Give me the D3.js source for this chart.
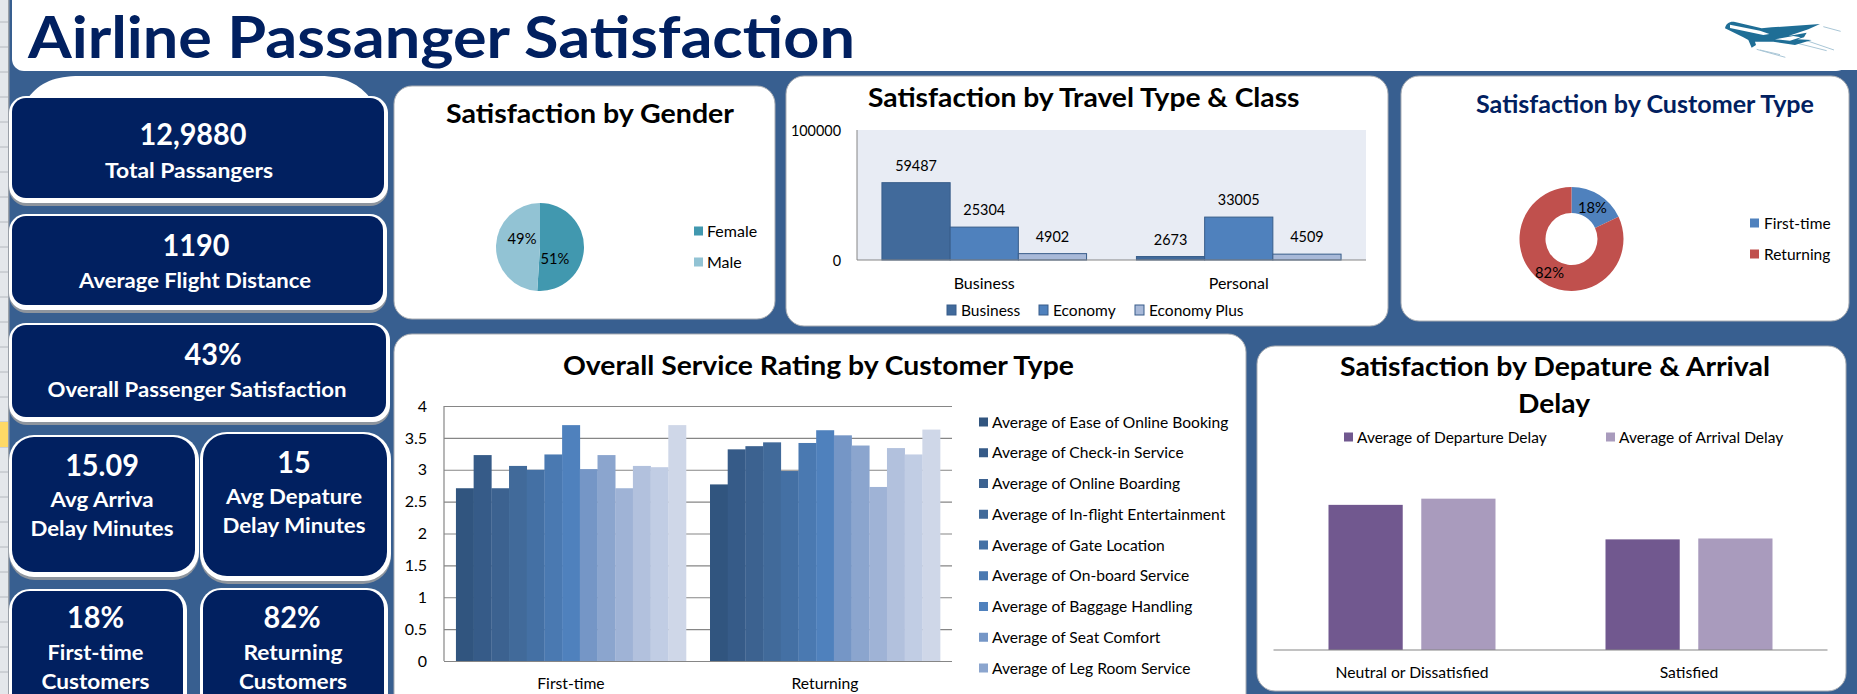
<!DOCTYPE html>
<html><head><meta charset="utf-8">
<script src="https://cdn.jsdelivr.net/npm/d3@7"></script>
<style>html,body{margin:0;padding:0;background:#385F90;overflow:hidden}svg{display:block}text{font-family:Lato,"Open Sans",sans-serif}</style>
</head><body><svg id="c" width="1857" height="694"></svg>
<script>
// ---------- data ----------
const chartTitle = "Airline Passanger Satisfaction";
const kpiValues = ["12,9880","1190","43%","15.09","15","18%","82%"];
const kpiLabels = [["Total Passangers"],["Average Flight Distance"],["Overall Passenger Satisfaction"],["Avg Arriva","Delay Minutes"],["Avg Depature","Delay Minutes"],["First-time","Customers"],["Returning","Customers"]];
const genderCats = ["Female","Male"];
const genderVals = [51,49];
const travelCats = ["Business","Personal"];
const classNames = ["Business","Economy","Economy Plus"];
const travelBusiness = [59487,25304,4902];
const travelPersonal = [2673,33005,4509];
const customerCats = ["First-time","Returning"];
const customerVals = [18,82];
const serviceCats = ["First-time","Returning"];
const serviceFirst = [2.71,3.23,2.71,3.06,3.00,3.24,3.70,3.01,3.23,2.71,3.06,3.04,3.70];
const serviceReturning = [2.77,3.32,3.37,3.43,2.98,3.42,3.62,3.54,3.38,2.73,3.34,3.24,3.63];
const serviceLegend = ["Average of Ease of Online Booking","Average of Check-in Service","Average of Online Boarding","Average of In-flight Entertainment","Average of Gate Location","Average of On-board Service","Average of Baggage Handling","Average of Seat Comfort","Average of Leg Room Service"];
const serviceTicks = [0,0.5,1,1.5,2,2.5,3,3.5,4];
const delayCats = ["Neutral or Dissatisfied","Satisfied"];
const delaySeries = ["Average of Departure Delay","Average of Arrival Delay"];
const delayDeparture = [16.4,12.5];
const delayArrival = [17.1,12.6];

// ---------- styles ----------
const NAVY="#012060", BLUE="#385F90", INK="#000", SMALL=16;
const serviceColors=["#31557F","#365B88","#3C6290","#416A9A","#4470A4","#4A79B1","#4F81BD","#7596C6","#8BA5CE","#9FB3D6","#B2C1DD","#C1CDE4","#CFD7E8"];
const svg=d3.select("#c");

function txt(g,x,y,s,o={}){
  const t=g.append("text").attr("x",x).attr("y",y).text(s)
    .attr("font-size",o.size||SMALL).attr("font-weight",o.weight||400)
    .attr("fill",o.fill||INK).attr("text-anchor",o.anchor||"start");
  const w=o.width||(o.sx?t.node().getComputedTextLength()*o.sx:0);
  if(w) t.attr("textLength",w).attr("lengthAdjust","spacingAndGlyphs");
  return t;
}
function card(x0,y0,x1,y1,r=18){
  svg.append("rect").attr("x",x0).attr("y",y0).attr("width",x1-x0).attr("height",y1-y0).attr("rx",r)
    .attr("fill","#fff").attr("stroke","#A9ADB3").attr("stroke-width",1);
  return svg.append("g");
}
function swatch(g,x,yc,c,w=9,h=10,stroke){
  g.append("rect").attr("x",x).attr("y",yc-h/2).attr("width",w).attr("height",h).attr("fill",c).attr("stroke",stroke||"none");
}

// background + excel strip
svg.append("rect").attr("width",1857).attr("height",694).attr("fill",BLUE);
svg.append("rect").attr("width",9).attr("height",694).attr("fill","#E4E7EB");
d3.range(22,694,25).forEach(y=>svg.append("line").attr("x1",0).attr("x2",9).attr("y1",y).attr("y2",y).attr("stroke","#B4B8BE"));
svg.append("rect").attr("y",422).attr("width",9).attr("height",25).attr("fill","#FFD966");
svg.append("rect").attr("x",8).attr("width",1.5).attr("height",694).attr("fill","#9AA0A8");

// title banner
svg.append("rect").attr("x",12).attr("y",-20).attr("width",1836).attr("height",91).attr("rx",12).attr("fill","#fff");
svg.append("rect").attr("x",1840).attr("y",-2).attr("width",17).attr("height",72).attr("fill","#fff");
txt(svg,28,58,chartTitle,{size:58,weight:700,fill:NAVY,width:827});

// logo
const lg=svg.append("g").attr("transform","translate(1680,0) scale(0.3333)");
[[430,80,482,94],[380,122,462,150],[345,128,440,152],[230,148,316,172],[240,150,300,164]].forEach(l=>lg.append("line").attr("x1",l[0]).attr("y1",l[1]).attr("x2",l[2]).attr("y2",l[3]).attr("stroke","#A9C6D6").attr("stroke-width",3));
lg.append("path").attr("fill","#1F6E96").attr("d","M135 85 C138 70 150 63 165 66 L245 85 L275 82 L420 72 L385 88 L325 108 L380 98 L372 112 L352 118 L395 120 L345 135 L280 125 L225 125 L228 135 L215 143 L205 120 L190 112 Z");
lg.append("path").attr("fill","#fff").attr("d","M150 74 L240 92 L268 102 L250 105 L150 84 Z M285 118 L340 108 L362 112 L330 122 Z");

// KPI column
svg.append("path").attr("d","M28 98 C40 82 55 76 80 76 L320 76 C345 76 360 85 370 98 Z").attr("fill","#fff");
const kpiBoxes=[
 {b:[12,98,384,198],r:14,cx:193,v:145,ls:[178],w:[168],lx:[189]},
 {b:[12,216,383,305],r:14,cx:196,v:256,ls:[288],w:[232],lx:[195]},
 {b:[12,325,386,417],r:14,cx:213,v:365,ls:[397],w:[299],lx:[197]},
 {b:[12,437,195,572],r:22,cx:102,v:476,ls:[507,536],w:[103,143],lx:[102,102]},
 {b:[203,434,387,576],r:24,cx:294,v:473,ls:[504,533],w:[136,143],lx:[294,294]},
 {b:[12,591,183,720],r:18,cx:95.5,v:628,ls:[660,689],w:[96,108],lx:[95.5,95.5]},
 {b:[203,590,384,720],r:18,cx:292,v:628,ls:[660,689],w:[99,108],lx:[293,293]}
];
kpiBoxes.forEach((k,i)=>{
  const [a,b,c,d]=k.b, g=svg.append("g");
  g.append("rect").attr("x",a-3).attr("y",b).attr("width",c-a+7).attr("height",d-b+8).attr("rx",k.r+4).attr("fill","#8E959E");
  g.append("rect").attr("x",a-3).attr("y",b-2).attr("width",c-a+7).attr("height",d-b+7).attr("rx",k.r+3).attr("fill","#fff");
  g.append("rect").attr("x",a).attr("y",b).attr("width",c-a).attr("height",d-b).attr("rx",k.r).attr("fill",NAVY);
  txt(g,k.cx,k.v,kpiValues[i],{size:31,weight:700,fill:"#fff",anchor:"middle",sx:0.93});
  kpiLabels[i].forEach((s,j)=>txt(g,k.lx[j],k.ls[j],s,{size:21,weight:700,fill:"#fff",anchor:"middle",width:k.w[j]}));
});

// ---------- gender pie ----------
{
 const g=card(394,86,775,319);
 txt(g,446,123,"Satisfaction by Gender",{size:27,weight:700,width:288});
 const col=d3.scaleOrdinal().domain(genderCats).range(["#4198AF","#92C3D4"]);
 const pie=d3.pie().sort(null)(genderVals);
 const arc=d3.arc().innerRadius(0).outerRadius(44);
 const p=g.append("g").attr("transform","translate(540,247)");
 p.selectAll("path").data(pie).join("path").attr("d",arc).attr("fill",(d,i)=>col(genderCats[i]));
 const off=[[15,11],[-18,-9]];
 pie.forEach((d,i)=>txt(p,off[i][0],off[i][1]+5.5,genderVals[i]+"%",{anchor:"middle",sx:0.92}));
 genderCats.forEach((c,i)=>{const y=231+31*i;swatch(g,694,y,col(c),9,9);txt(g,707,y+5.5,c);});
}

// ---------- travel type & class ----------
{
 const g=card(786,76,1388,326);
 txt(g,868,107,"Satisfaction by Travel Type & Class",{size:27,weight:700,width:431.5});
 const x=d3.scaleBand().domain(travelCats).range([857,1366]).paddingInner(0.196).paddingOuter(0.098);
 const xi=d3.scaleBand().domain(classNames).range([0,x.bandwidth()]);
 const y=d3.scaleLinear().domain([0,100000]).range([260,130]);
 g.append("rect").attr("x",857).attr("y",130).attr("width",509).attr("height",130).attr("fill","#E8ECF4");
 const col=d3.scaleOrdinal().domain(classNames).range(["#416A9B","#4F81BD","#A8B9D8"]);
 const rows=[travelBusiness,travelPersonal];
 travelCats.forEach((c,ci)=>classNames.forEach((s,si)=>{
   const v=rows[ci][si], bx=x(c)+xi(s);
   g.append("rect").attr("x",bx).attr("y",y(v)).attr("width",xi.bandwidth()).attr("height",y(0)-y(v)).attr("fill",col(s)).attr("stroke","#385D8A");
   txt(g,bx+xi.bandwidth()/2,y(v)-12,v,{anchor:"middle",sx:0.9});
 }));
 g.append("line").attr("x1",857).attr("x2",1366).attr("y1",260).attr("y2",260).attr("stroke","#868686").attr("stroke-width",1.2);
 g.append("line").attr("x1",857).attr("x2",857).attr("y1",130).attr("y2",260).attr("stroke","#868686");
 [0,100000].forEach(t=>txt(g,841,y(t)+5.5,t,{anchor:"end",sx:0.9}));
 travelCats.forEach(c=>txt(g,x(c)+x.bandwidth()/2,288.5,c,{anchor:"middle"}));
 const lx=[947,1039,1135];
 classNames.forEach((s,i)=>{swatch(g,lx[i],310,col(s),9,10,"#385D8A");txt(g,lx[i]+14,315.5,s,{sx:0.97});});
}

// ---------- customer donut ----------
{
 const g=card(1401,76,1849,321);
 txt(g,1476,113,"Satisfaction by Customer Type",{size:24,weight:700,fill:NAVY,width:338});
 const col=d3.scaleOrdinal().domain(customerCats).range(["#4F81BD","#C0504D"]);
 const pie=d3.pie().sort(null)(customerVals);
 const arc=d3.arc().innerRadius(26).outerRadius(52);
 const p=g.append("g").attr("transform","translate(1571.5,239)");
 p.selectAll("path").data(pie).join("path").attr("d",arc).attr("fill",(d,i)=>col(customerCats[i]));
 const off=[[21,-32],[-22,33]];
 pie.forEach((d,i)=>txt(p,off[i][0],off[i][1]+5.5,customerVals[i]+"%",{anchor:"middle",sx:0.92}));
 customerCats.forEach((c,i)=>{const y=223+31*i;swatch(g,1750,y,col(c),9,9);txt(g,1764,y+5.5,c,{sx:0.97});});
}

// ---------- service rating ----------
{
 const g=card(394,334,1246,720);
 txt(g,563,375,"Overall Service Rating by Customer Type",{size:27,weight:700,width:511});
 const x=d3.scaleBand().domain(serviceCats).range([444,952]).paddingInner(0.0945).paddingOuter(0.047);
 const xi=d3.scaleBand().domain(d3.range(13)).range([0,x.bandwidth()]);
 const y=d3.scaleLinear().domain([0,4]).range([661,406]);
 const ax=g.append("g").attr("transform","translate(444,0)").call(d3.axisLeft(y).tickValues(serviceTicks).tickSize(-508).tickFormat(d=>d).tickPadding(17));
 ax.select(".domain").remove();
 ax.selectAll("line").attr("stroke","#868686").attr("stroke-width",1.2);
 ax.selectAll("text").attr("font-size",16).attr("fill",INK).style("font-family","Lato");
 g.append("line").attr("x1",444).attr("x2",444).attr("y1",406).attr("y2",661).attr("stroke","#868686").attr("stroke-width",1.2);
 [serviceFirst,serviceReturning].forEach((vals,ci)=>{
   g.selectAll(null).data(vals).join("rect").attr("x",(d,i)=>x(serviceCats[ci])+xi(i)).attr("y",d=>y(d))
    .attr("width",xi.bandwidth()+0.3).attr("height",d=>y(0)-y(d)).attr("fill",(d,i)=>serviceColors[i]);
 });
 serviceCats.forEach(c=>txt(g,x(c)+x.bandwidth()/2,688.5,c,{anchor:"middle",sx:0.98}));
 serviceLegend.forEach((s,i)=>{const yc=422+30.75*i;swatch(g,979,yc,serviceColors[i],9,9);txt(g,992,yc+5.5,s,{sx:0.975});});
}

// ---------- delay ----------
{
 const g=card(1257,346,1846,691);
 txt(g,1555,376,"Satisfaction by Depature & Arrival",{size:27,weight:700,anchor:"middle",width:430});
 txt(g,1554,413,"Delay",{size:27,weight:700,anchor:"middle",width:72});
 const col=d3.scaleOrdinal().domain(delaySeries).range(["#71588F","#A99BBD"]);
 const x=d3.scaleBand().domain(delayCats).range([1273.5,1827.5]);
 const xi=d3.scaleBand().domain(delaySeries).range([0,167]).paddingInner(0.2);
 const y=d3.scaleLinear().domain([0,20]).range([650,473]);
 [delayDeparture,delayArrival].forEach((vals,si)=>vals.forEach((v,ci)=>{
   const bx=x(delayCats[ci])+(x.bandwidth()-167)/2+xi(delaySeries[si]);
   g.append("rect").attr("x",bx).attr("y",y(v)).attr("width",xi.bandwidth()).attr("height",y(0)-y(v)).attr("fill",col(delaySeries[si]));
 }));
 g.append("line").attr("x1",1273.5).attr("x2",1827.5).attr("y1",650).attr("y2",650).attr("stroke","#868686").attr("stroke-width",1.2);
 delayCats.forEach(c=>txt(g,x(c)+x.bandwidth()/2,677.5,c,{anchor:"middle",sx:0.98}));
 const lx=[1344,1606];
 delaySeries.forEach((s,i)=>{swatch(g,lx[i],437,col(s),9,9);txt(g,lx[i]+13,442.5,s,{sx:0.97});});
}
</script></body></html>
